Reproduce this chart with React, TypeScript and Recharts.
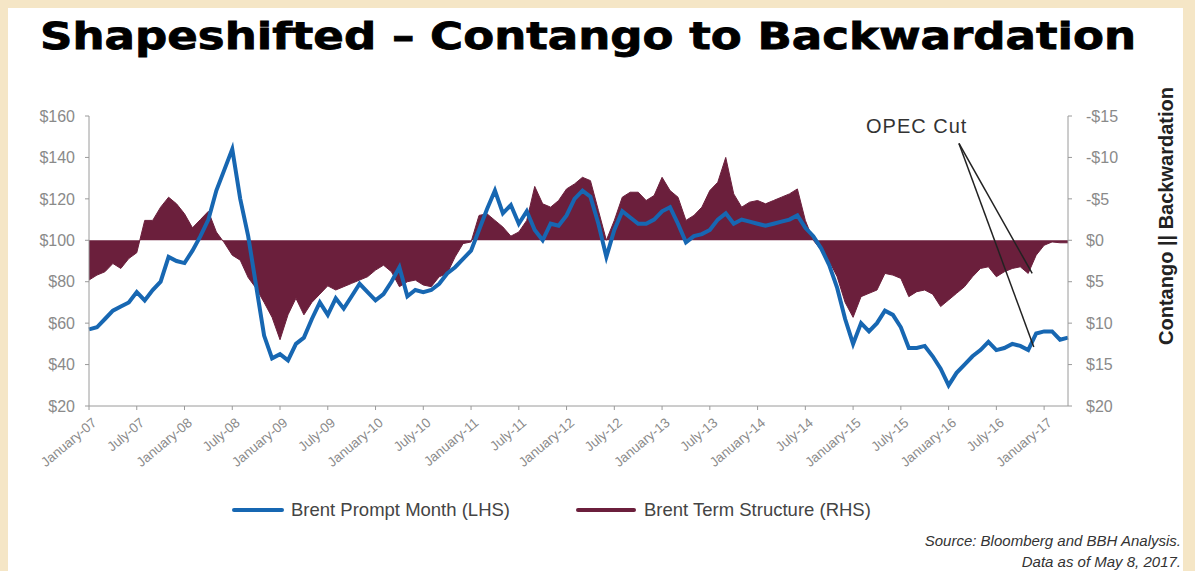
import React from 'react';
import {
  ComposedChart,
  Line,
  Area,
  XAxis,
  YAxis,
  ReferenceLine,
} from 'recharts';

// monthly points, Jan-07 .. Apr-17 (index = months since Jan-07)
const brentPrompt = [
  57, 58, 62, 66, 68, 70, 75, 71, 76, 80, 92, 90,
  89, 95, 102, 110, 124, 134, 144, 120, 102, 78, 54, 43,
  45, 42, 50, 53, 62, 70, 64, 72, 67, 73, 79, 75,
  71, 74, 80, 87, 73, 76, 75, 76, 79, 84, 87, 91,
  95, 105, 115, 124, 113, 117, 108, 114, 105, 100, 108, 107,
  112, 120, 124, 121, 108, 92, 105, 114, 111, 108, 108, 110,
  114, 116, 108, 99, 102, 103, 105, 110, 113, 108, 110, 109,
  108, 107, 108, 109, 110, 112, 106, 102, 96, 88, 77, 62,
  50, 60, 56, 60, 66, 64, 58, 48, 48, 49, 44, 38,
  30, 36, 40, 44, 47, 51, 47, 48, 50, 49, 47, 55,
  56, 56, 52, 53,
];

// positive = contango (drawn below $0), negative = backwardation
const termStructure = [
  4.8, 4.2, 3.8, 2.8, 3.4, 2.2, 1.5, -2.4, -2.4, -4.0, -5.2, -4.4,
  -3.2, -1.5, -2.5, -3.5, -1.0, 0.3, 1.8, 2.4, 4.5, 5.8, 7.5, 9.3,
  12.0, 9.0, 7.0, 9.0, 7.5, 6.5, 5.5, 6.0, 5.6, 5.2, 4.8, 4.4,
  3.6, 3.0, 3.8, 5.6, 5.0, 4.8, 5.4, 5.6, 4.4, 4.0, 2.0, 0.4,
  0.2, -3.0, -3.2, -2.4, -1.6, -0.5, -1.0, -2.4, -6.5, -4.4, -4.0, -4.8,
  -6.2, -6.8, -7.6, -7.2, -3.6, 0, -2.4, -5.2, -5.8, -5.8, -4.8, -5.4,
  -7.6, -6.0, -5.2, -2.4, -3.0, -4.0, -6.0, -7.0, -10.0, -5.6, -4.0, -4.6,
  -4.8, -4.4, -4.8, -5.2, -5.6, -6.2, -2.4, 0, 1.2, 2.5, 4.4, 7.5,
  9.3, 6.8, 6.4, 6.0, 4.0, 4.2, 4.6, 6.8, 6.2, 6.0, 6.5, 8.0,
  7.2, 6.4, 5.6, 4.4, 3.4, 3.2, 4.4, 3.8, 3.4, 3.2, 4.0, 1.8,
  0.6, 0.2, 0.3, 0.3,
];

const tickMonths = [0, 6, 12, 18, 24, 30, 36, 42, 48, 54, 60, 66, 72, 78, 84, 90, 96, 102, 108, 114, 120];
const tickLabels = [
  'January-07', 'July-07', 'January-08', 'July-08', 'January-09', 'July-09',
  'January-10', 'July-10', 'January-11', 'July-11', 'January-12', 'July-12',
  'January-13', 'July-13', 'January-14', 'July-14', 'January-15', 'July-15',
  'January-16', 'July-16', 'January-17',
];
const leftTicks = [20, 40, 60, 80, 100, 120, 140, 160];
const rightTicks = [-15, -10, -5, 0, 5, 10, 15, 20];

// OPEC cut callout: label point and the two targets (price, term structure)
const opecFrom = { m: 109.3, price: 146.7, term: -11.7 };
const opecPriceTo = { m: 118.7, price: 48.5 };
const opecTermTo = { m: 118.5, term: 4.0 };

const data = brentPrompt.map((p, i) => ({ m: i, brent: p, term: termStructure[i] }));

const BLUE = '#1767b2';
const MAROON = '#6b1f3c';
const AXIS = '#9a9a9a';
const TICK = '#8a8a8a';
const FONT = "'Liberation Sans Narrow', 'Arial Narrow', 'Liberation Sans', Arial, sans-serif";

const XTick = ({ x, y, payload }: any) => {
  const idx = tickMonths.indexOf(payload.value);
  return (
    <g transform={`translate(${x + 6},${y + 9})`}>
      <text
        x={0}
        y={0}
        dy={4}
        textAnchor="end"
        transform="rotate(-40)"
        fill={TICK}
        fontSize={13.5}
        fontFamily={FONT}
      >
        {tickLabels[idx]}
      </text>
    </g>
  );
};

const App: React.FC = () => {
  return (
    <div
      style={{
        position: 'relative',
        width: 1195,
        height: 571,
        background: '#f5e6c6',
        overflow: 'hidden',
        fontFamily: FONT,
      }}
    >
      <style>{'body{margin:0}'}</style>
      <div
        style={{
          position: 'absolute',
          left: 8,
          top: 8,
          width: 1175,
          height: 563,
          background: '#ffffff',
        }}
      />
      <svg
        width={1195}
        height={60}
        style={{ position: 'absolute', left: 0, top: 0 }}
      >
        <text
          x={40}
          y={49}
          textLength={1096}
          lengthAdjust="spacingAndGlyphs"
          fontFamily="'DejaVu Sans', sans-serif"
          fontWeight={900}
          fontSize={38}
          fill="#000"
          stroke="#000"
          strokeWidth={0.8}
        >
          Shapeshifted – Contango to Backwardation
        </text>
      </svg>

      <div style={{ position: 'absolute', left: 0, top: 0 }}>
        <ComposedChart
          width={1195}
          height={480}
          data={data}
          margin={{ top: 116, right: 67, left: 0, bottom: 14 }}
        >
          <XAxis
            dataKey="m"
            type="number"
            domain={[0, 123]}
            ticks={tickMonths}
            tick={<XTick />}
            height={60}
            stroke={AXIS}
            tickSize={4}
            interval={0}
          />
          <YAxis
            yAxisId="left"
            domain={[20, 160]}
            ticks={leftTicks}
            tickFormatter={(v: number) => `$${v}`}
            width={89}
            stroke={AXIS}
            tickSize={4}
            tickMargin={10}
            tick={{ fill: TICK, fontSize: 16, fontFamily: FONT }}
            allowDataOverflow
          />
          <YAxis
            yAxisId="right"
            orientation="right"
            reversed
            domain={[-15, 20]}
            ticks={rightTicks}
            tickFormatter={(v: number) => (v < 0 ? `-$${-v}` : `$${v}`)}
            width={60}
            stroke={AXIS}
            tickSize={4}
            tickMargin={14}
            tick={{ fill: TICK, fontSize: 16, fontFamily: FONT }}
            allowDataOverflow
          />
          <Area
            yAxisId="right"
            dataKey="term"
            type="linear"
            baseValue={0}
            stroke={MAROON}
            strokeWidth={1}
            fill={MAROON}
            fillOpacity={1}
            isAnimationActive={false}
          />
          <Line
            yAxisId="left"
            dataKey="brent"
            type="linear"
            stroke={BLUE}
            strokeWidth={4}
            dot={false}
            isAnimationActive={false}
          />
          <ReferenceLine
            yAxisId="left"
            segment={[
              { x: opecFrom.m, y: opecFrom.price },
              { x: opecPriceTo.m, y: opecPriceTo.price },
            ]}
            stroke="#222"
            strokeWidth={1.5}
            ifOverflow="visible"
          />
          <ReferenceLine
            yAxisId="right"
            segment={[
              { x: opecFrom.m, y: opecFrom.term },
              { x: opecTermTo.m, y: opecTermTo.term },
            ]}
            stroke="#222"
            strokeWidth={1.5}
            ifOverflow="visible"
          />
        </ComposedChart>
      </div>

      <div
        style={{
          position: 'absolute',
          left: 866,
          top: 115,
          fontSize: 20,
          letterSpacing: 1,
          color: '#333',
          fontFamily: FONT,
          lineHeight: '22px',
        }}
      >
        OPEC Cut
      </div>

      <div
        style={{
          position: 'absolute',
          left: 1166,
          top: 216,
          transform: 'translate(-50%, -50%) rotate(-90deg)',
          whiteSpace: 'nowrap',
          fontSize: 20,
          fontWeight: 'bold',
          color: '#222',
          fontFamily: FONT,
        }}
      >
        Contango || Backwardation
      </div>

      <div
        style={{
          position: 'absolute',
          top: 499,
          left: 232,
          display: 'flex',
          alignItems: 'center',
          fontSize: 18.5,
          color: '#444',
          fontFamily: FONT,
        }}
      >
        <span style={{ width: 52, height: 4, background: BLUE, borderRadius: 2, marginRight: 7 }} />
        <span>Brent Prompt Month (LHS)</span>
        <span style={{ width: 60, height: 4, background: MAROON, borderRadius: 2, marginLeft: 66, marginRight: 8 }} />
        <span>Brent Term Structure (RHS)</span>
      </div>

      <div
        style={{
          position: 'absolute',
          right: 14,
          top: 530,
          textAlign: 'right',
          fontSize: 15,
          fontStyle: 'italic',
          color: '#333',
          fontFamily: FONT,
          lineHeight: '21px',
        }}
      >
        Source: Bloomberg and BBH Analysis.
        <br />
        Data as of May 8, 2017.
      </div>
    </div>
  );
};

export default App;
